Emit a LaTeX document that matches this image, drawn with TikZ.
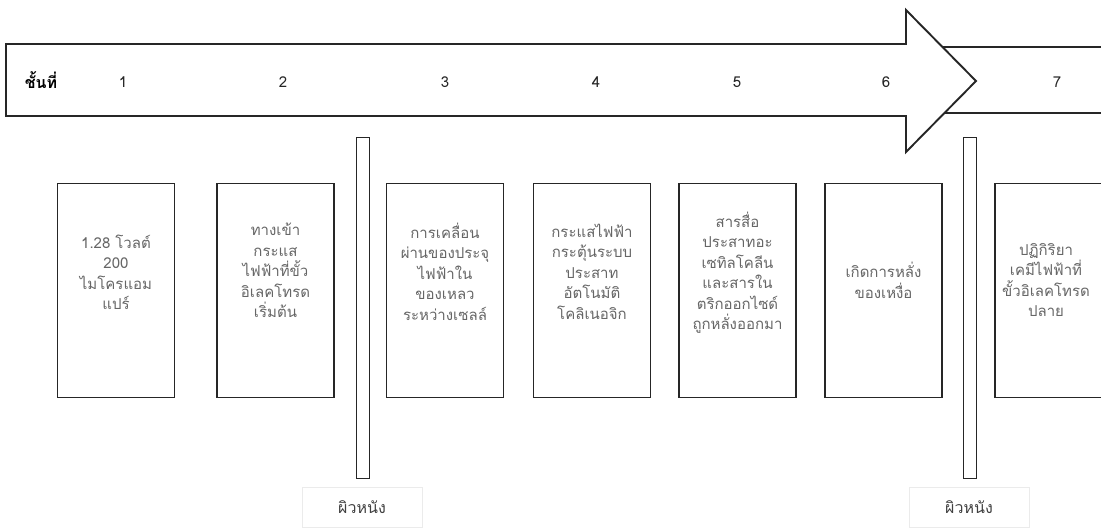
\documentclass[tikz,border=0pt]{standalone}
\usepackage{fontspec}
\setmainfont[Script=Thai]{Loma}
\begin{document}
\begin{tikzpicture}[x=1pt,y=-1pt,
  line/.style={draw=black!85, line width=1.9pt},
  stepbox/.style={line, fill=white, rectangle, minimum width=117pt, minimum height=214pt, inner sep=0pt},
  wall/.style={line, fill=white, rectangle, minimum width=13pt, minimum height=341pt, inner sep=0pt},
  txt/.style={text=black!60, font=\fontsize{15}{20.5}\selectfont, align=center, inner sep=0pt},
  num/.style={text=black!85, font=\fontsize{15}{16}\selectfont, inner sep=0pt},
  lab/.style={draw=black!8, line width=0.6pt, rectangle, minimum width=120pt, minimum height=40pt, text=black!75, font=\fontsize{16}{18}\selectfont}
]
\useasboundingbox (0,0) rectangle (1101,530);
% arrow
\draw[line, fill=white] (930,47) rectangle (1115,113);
\draw[line, fill=white, line join=miter] (6,44) -- (906,44) -- (906,10) -- (976,81) -- (906,152) -- (906,116) -- (6,116) -- cycle;
\node[font=\bfseries\fontsize{16}{18}\selectfont, inner sep=0pt] (lvl) at (41,80) {ชั้นที่};
\node[num] (n1) at (123,82) {1};
\node[num] (n2) at (283,82) {2};
\node[num] (n3) at (445,82) {3};
\node[num] (n4) at (596,82) {4};
\node[num] (n5) at (737,82) {5};
\node[num] (n6) at (886,82) {6};
\node[num] (n7) at (1057,82) {7};
% walls
\node[wall] (w1) at (363,308) {};
\node[wall] (w2) at (970,308) {};
% boxes
\node[stepbox] (b1) at (116,290.5) {};
\node[stepbox] (b2) at (275.5,290.5) {};
\node[stepbox] (b3) at (445,290.5) {};
\node[stepbox] (b4) at (592,290.5) {};
\node[stepbox] (b5) at (737.5,290.5) {};
\node[stepbox] (b6) at (883.5,290.5) {};
\node[stepbox, minimum width=130pt, anchor=west] (b7) at (994,290.5) {};
\node[txt] (t1) at ([yshift=18pt]b1.center) {1.28 โวลต์\\200\\ไมโครแอม\\แปร์};
\node[txt] (t2) at ([yshift=20pt]b2.center) {ทางเข้า\\กระแส\\ไฟฟ้าที่ขั้ว\\อิเลคโทรด\\เริ่มต้น};
\node[txt] (t3) at ([yshift=19pt]b3.center) {การเคลื่อน\\ผ่านของประจุ\\ไฟฟ้าใน\\ของเหลว\\ระหว่างเซลล์};
\node[txt] (t4) at ([yshift=19pt]b4.center) {กระแสไฟฟ้า\\กระตุ้นระบบ\\ประสาท\\อัตโนมัติ\\โคลิเนอจิก};
\node[txt] (t5) at ([yshift=18pt]b5.center) {สารสื่อ\\ประสาทอะ\\เซทิลโคลีน\\และสารใน\\ตริกออกไซด์\\ถูกหลั่งออกมา};
\node[txt] (t6) at ([yshift=10pt]b6.center) {เกิดการหลั่ง\\ของเหงื่อ};
\node[txt] (t7) at (1046,280) {ปฏิกิริยา\\เคมีไฟฟ้าที่\\ขั้วอิเลคโทรด\\ปลาย};
% labels
\node[lab] (s1) at (362,507) {ผิวหนัง};
\node[lab] (s2) at (969,507) {ผิวหนัง};
\end{tikzpicture}
\end{document}
